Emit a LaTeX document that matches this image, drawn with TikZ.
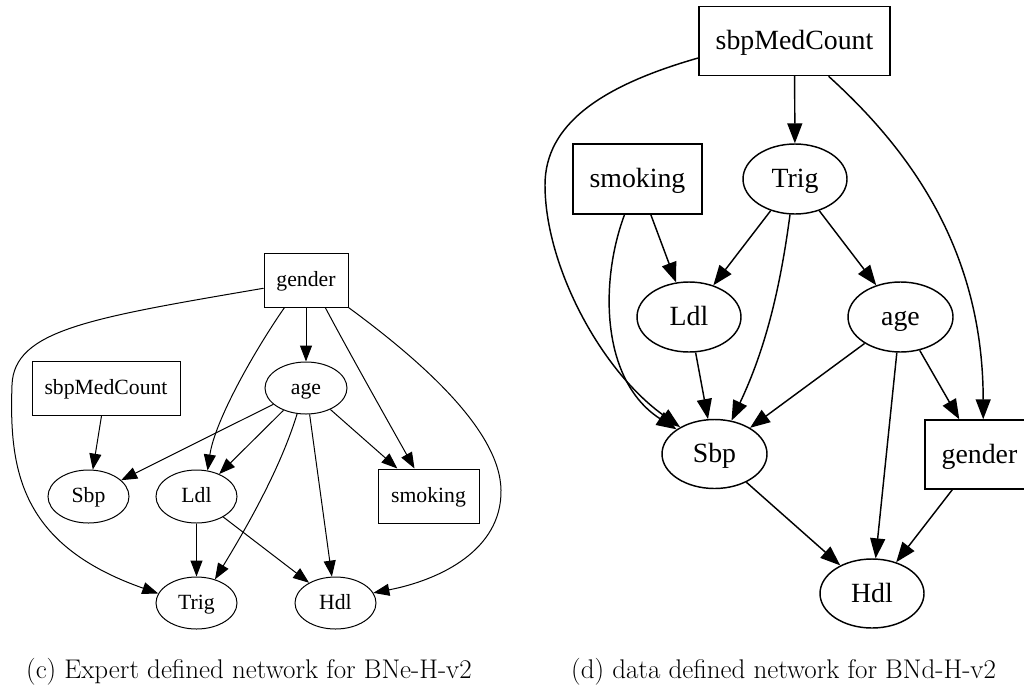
\documentclass[tikz,border=0pt]{standalone}
\usepackage{fontspec}
\newfontfamily\graphfont{Liberation Serif}
\usetikzlibrary{arrows.meta,shapes.geometric}

\begin{document}
\begin{tikzpicture}[x=1pt,y=-1pt,
  % left network
  lnode/.style={draw,line width=1pt,inner sep=0pt,
    font=\graphfont\fontsize{21.7}{26}\selectfont,text height=16pt,text depth=4pt},
  lbox/.style={lnode,rectangle},
  lell/.style={lnode,ellipse},
  larr/.style={line width=1pt,-{Triangle[length=16pt,width=12pt]}},
  % right network
  rnode/.style={draw,line width=1.45pt,inner sep=0pt,
    font=\graphfont\fontsize{27.8}{33}\selectfont,text height=21.5pt,text depth=4pt},
  rbox/.style={rnode,rectangle},
  rell/.style={rnode,ellipse},
  rarr/.style={line width=1.45pt,-{Triangle[length=20pt,width=15pt]}},
  caption/.style={anchor=base west,inner sep=0pt,font=\fontsize{27}{31}\selectfont}]

\useasboundingbox (0,0) rectangle (1024,691);
\clip (0,0) rectangle (1024,691);

% ---------- expert defined network ----------
\node[lbox,minimum width=84,minimum height=54]  (lg) at (306,280)     {gender};
\node[lbox,minimum width=148,minimum height=54] (lm) at (106,388)     {sbpMedCount};
\node[lell,minimum width=82,minimum height=52]  (la) at (306,388)     {age};
\node[lell,minimum width=81,minimum height=53]  (ls) at (88.5,496.5)  {Sbp};
\node[lell,minimum width=81,minimum height=53]  (ll) at (196.5,496.5) {Ldl};
\node[lbox,minimum width=101,minimum height=54] (lk) at (428.5,496)   {smoking};
\node[lell,minimum width=81,minimum height=52]  (lt) at (196.5,603)   {Trig};
\node[lell,minimum width=81,minimum height=52]  (lh) at (335.5,603)   {Hdl};

\draw[larr] (lg.191) .. controls (90,318) and (14,330) .. (12,385)
            .. controls (9,470) and (20,545) .. (lt.166);
\draw[larr] (lg) -- (la);
\draw[larr] (lg.-128) .. controls (255,350) and (215,420) .. (ll.67);
\draw[larr] (lg.-55) .. controls (345,345) and (390,425) .. (lk.117);
\draw[larr] (lg.south east) .. controls (420,360) and (500,430) .. (501,490)
            .. controls (502,550) and (440,580) .. (lh.15);
\draw[larr] (lm) -- (ls);
\draw[larr] (la) -- (ls);
\draw[larr] (la) -- (ll);
\draw[larr] (la.-109) .. controls (280,470) and (245,530) .. (lt.52);
\draw[larr] (la) -- (lk);
\draw[larr] (la) -- (lh);
\draw[larr] (ll) -- (lt);
\draw[larr] (ll) -- (lh);

\node[caption] (capc) at (26,678) {(c) Expert defined network for BNe-H-v2};

% ---------- data defined network ----------
\node[rbox,minimum width=191,minimum height=69] (rm) at (794.5,41)  {sbpMedCount};
\node[rbox,minimum width=129,minimum height=70] (rk) at (637.5,179) {smoking};
\node[rell,minimum width=104,minimum height=70] (rt) at (795,179)   {Trig};
\node[rell,minimum width=104,minimum height=70] (rl) at (689,317)   {Ldl};
\node[rell,minimum width=105,minimum height=70] (ra) at (900.5,317) {age};
\node[rell,minimum width=105,minimum height=69] (rs) at (714.5,454) {Sbp};
\node[rbox,minimum width=109,minimum height=69] (rg) at (979.5,454.5) {gender};
\node[rell,minimum width=104,minimum height=69] (rh) at (872,593.5) {Hdl};

\draw[rarr] (rm.190) .. controls (600,86) and (545,125) .. (545,185)
            .. controls (545,265) and (600,370) .. (rs.142);
\draw[rarr] (rm) -- (rt);
\draw[rarr] (rm.-46) .. controls (910,150) and (983,250) .. (rg.84);
\draw[rarr] (rk) -- (rl);
\draw[rarr] (rk.-110) .. controls (600,280) and (600,380) .. (rs.147);
\draw[rarr] (rt) -- (rl);
\draw[rarr] (rt.-98) .. controls (780,290) and (765,350) .. (rs.63);
\draw[rarr] (rt) -- (ra);
\draw[rarr] (rl) -- (rs);
\draw[rarr] (ra) -- (rs);
\draw[rarr] (ra) -- (rh);
\draw[rarr] (ra) -- (rg);
\draw[rarr] (rs) -- (rh);
\draw[rarr] (rg) -- (rh);

\node[caption] (capd) at (571,678) {(d) data defined network for BNd-H-v2};
\end{tikzpicture}
\end{document}
